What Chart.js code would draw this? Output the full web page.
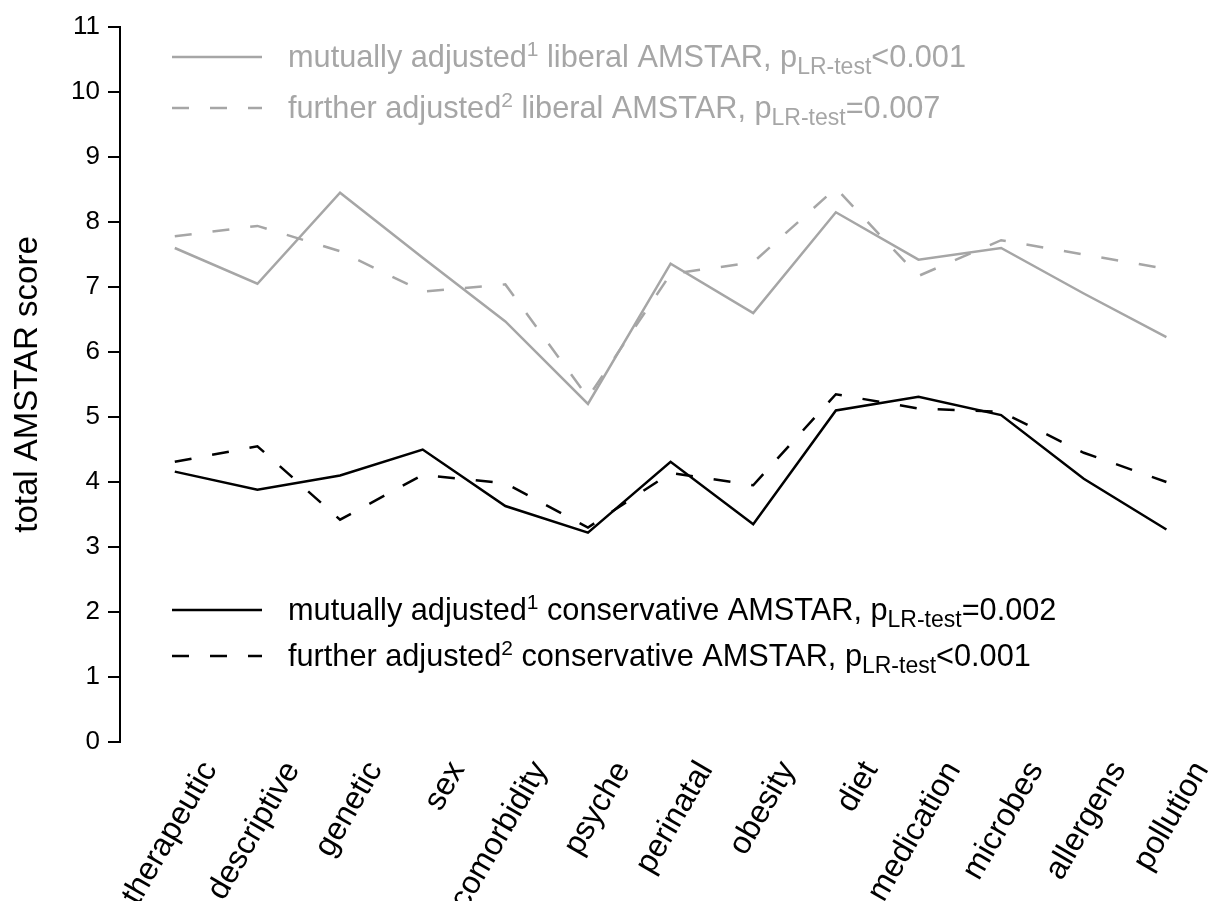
<!DOCTYPE html>
<html>
<head>
<meta charset="utf-8">
<script src="https://cdn.jsdelivr.net/npm/chart.js@4.4.0/dist/chart.umd.min.js"></script>
<style>
  body { margin: 0; background: #fff; }
  #wrap { width: 1213px; height: 901px; }
</style>
</head>
<body>
<div id="wrap"><canvas id="chart"></canvas></div>
<script>
// Kategorien und Werte
const categories = ["therapeutic", "descriptive", "genetic", "sex", "comorbidity", "psyche",
	"perinatal", "obesity", "diet", "medication", "microbes", "allergens", "pollution"];
const mutualLiberal = [7.6, 7.05, 8.45, 7.45, 6.47, 5.2, 7.36, 6.6, 8.15, 7.42, 7.6, 6.9, 6.23];
const furtherLiberal = [7.78, 7.94, 7.55, 6.93, 7.04, 5.3, 7.2, 7.38, 8.52, 7.17, 7.72, 7.5, 7.28];
const mutualConservative = [4.16, 3.88, 4.1, 4.5, 3.63, 3.22, 4.31, 3.35, 5.1, 5.31, 5.03, 4.05, 3.27];
const furtherConservative = [4.31, 4.55, 3.42, 4.11, 3.98, 3.3, 4.14, 3.95, 5.35, 5.13, 5.08, 4.45, 4.0];
const yTicks = [0, 1, 2, 3, 4, 5, 6, 7, 8, 9, 10, 11];

const FONT = "'Liberation Sans', Arial, Helvetica, sans-serif";
const GRAY = "#a6a6a6";
const DASH = [17, 21];

const toPoints = arr => arr.map((v, i) => ({ x: i, y: v }));

// Legenden mit Hoch- und Tiefstellung
const legendRows = [
	{ y: 57, color: GRAY, dash: false, parts: [["mutually adjusted"], ["1", "sup"], [" liberal AMSTAR, p"], ["LR-test", "sub"], ["<0.001"]] },
	{ y: 108, color: GRAY, dash: true, parts: [["further adjusted"], ["2", "sup"], [" liberal AMSTAR, p"], ["LR-test", "sub"], ["=0.007"]] },
	{ y: 610, color: "#000", dash: false, parts: [["mutually adjusted"], ["1", "sup"], [" conservative AMSTAR, p"], ["LR-test", "sub"], ["=0.002"]] },
	{ y: 656, color: "#000", dash: true, parts: [["further adjusted"], ["2", "sup"], [" conservative AMSTAR, p"], ["LR-test", "sub"], ["<0.001"]] }
];

const legendPlugin = {
	id: "richLegend",
	afterDraw(chart) {
		const ctx = chart.ctx;
		ctx.save();
		legendRows.forEach(row => {
			ctx.strokeStyle = row.color;
			ctx.lineWidth = 2.5;
			ctx.setLineDash(row.dash ? DASH : []);
			ctx.beginPath();
			ctx.moveTo(172, row.y);
			ctx.lineTo(262, row.y);
			ctx.stroke();
			ctx.setLineDash([]);

			ctx.fillStyle = row.color;
			ctx.textBaseline = "alphabetic";
			let x = 288;
			const base = row.y + 10;
			row.parts.forEach(([t, kind]) => {
				let size = 30.7, dy = 0;
				if (kind === "sup") { size = 21; dy = -11; }
				if (kind === "sub") { size = 23; dy = 7; }
				ctx.font = `${size}px ${FONT}`;
				ctx.fillText(t, x, base + dy);
				x += ctx.measureText(t).width;
			});
		});
		ctx.restore();
	}
};

new Chart(document.getElementById("chart"), {
	type: "line",
	data: {
		datasets: [
			{ data: toPoints(mutualLiberal), borderColor: GRAY, borderWidth: 2.5 },
			{ data: toPoints(furtherLiberal), borderColor: GRAY, borderWidth: 2.5, borderDash: DASH },
			{ data: toPoints(mutualConservative), borderColor: "#000", borderWidth: 2.5 },
			{ data: toPoints(furtherConservative), borderColor: "#000", borderWidth: 2.5, borderDash: DASH }
		]
	},
	options: {
		responsive: true,
		maintainAspectRatio: false,
		animation: false,
		layout: { padding: { top: 27, right: 13, left: 0, bottom: 0 } },
		elements: { point: { radius: 0 }, line: { tension: 0, borderCapStyle: "butt", borderJoinStyle: "miter" } },
		plugins: { legend: { display: false }, tooltip: { enabled: false } },
		scales: {
			x: {
				type: "linear",
				min: -0.663,
				max: 12.35,
				afterBuildTicks: s => { s.ticks = categories.map((c, i) => ({ value: i })); },
				afterFit: s => { s.height = 159; },
				ticks: {
					autoSkip: false,
					minRotation: 60,
					maxRotation: 60,
					padding: 13,
					labelOffset: 35,
					color: "#000",
					font: { family: FONT, size: 32 },
					callback: v => categories[v]
				},
				grid: { display: false, drawTicks: false },
				border: { display: false }
			},
			y: {
				min: 0,
				max: 11,
				afterBuildTicks: s => { s.ticks = yTicks.map(v => ({ value: v })); },
				afterFit: s => { s.width = 120; },
				ticks: { color: "#000", padding: 8, font: { family: FONT, size: 26 } },
				grid: { drawOnChartArea: false, drawTicks: true, tickLength: 12, color: "#000", lineWidth: 2 },
				border: { display: true, color: "#000", width: 2 },
				title: {
					display: true,
					text: "total AMSTAR score",
					color: "#000",
					font: { family: FONT, size: 33 },
					padding: { top: 8, bottom: 0 }
				}
			}
		}
	},
	plugins: [legendPlugin]
});
</script>
</body>
</html>
